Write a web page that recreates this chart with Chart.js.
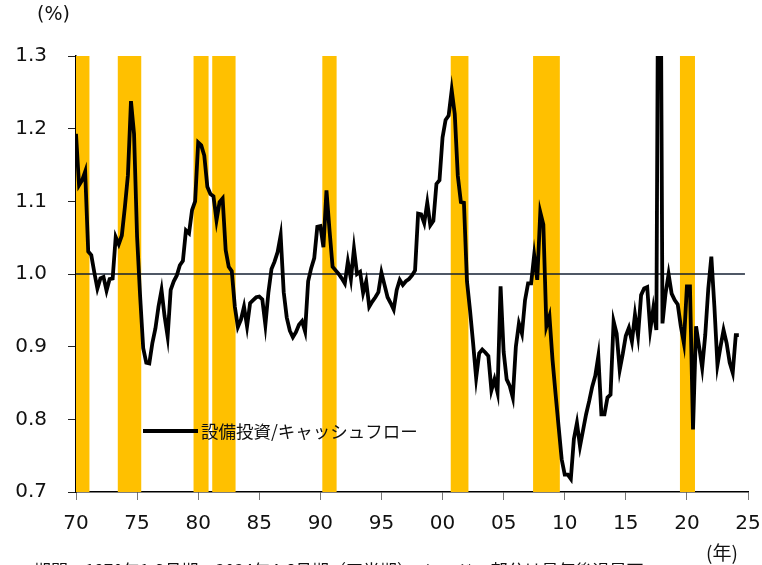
<!DOCTYPE html>
<html lang="ja">
<head>
<meta charset="utf-8">
<title>設備投資/キャッシュフロー</title>
<script src="https://cdn.jsdelivr.net/npm/chart.js@4.4.0/dist/chart.umd.min.js"></script>
<style>
  html, body { margin: 0; padding: 0; background: #fff; }
  #wrap { position: relative; width: 762px; height: 565px; overflow: hidden; }
  #chart { position: absolute; left: 0; top: 0; }
  .note { position: absolute; font-family: "DejaVu Sans", "Noto Sans CJK JP", sans-serif; color: #111; white-space: nowrap; }
  #unit { left: 37px; top: 2px; font-size: 19px; }
  #yearUnit { left: 706px; top: 538px; font-size: 19px; font-family: "Noto Sans CJK JP", sans-serif; }
  #source { left: 34px; top: 557px; font-size: 17px; font-family: "Noto Sans CJK JP", sans-serif; }
  #legend { position: absolute; left: 143px; top: 418px; display: flex; align-items: center; }
  #legend .swatch { width: 55px; height: 0; border-top: 4px solid #000; margin-right: 3px; }
  #legend .label { font-family: "Noto Sans CJK JP", sans-serif; font-size: 17.5px; color: #111; }
</style>
</head>
<body>
<div id="wrap">
  <canvas id="chart" width="762" height="565"></canvas>
  <div class="note" id="unit">(%)</div>
  <div class="note" id="yearUnit">(年)</div>
  <div class="note" id="source">期間：1970年1-3月期～2024年4-6月期（四半期）、シャドー部分は景気後退局面</div>
  <div id="legend"><span class="swatch"></span><span class="label">設備投資/キャッシュフロー</span></div>
</div>
<script>
// quarterly series, 1970Q1 - 2024Q2
const startYear = 1970;
const ratio = [
  1.193, 1.122, 1.129, 1.141, 1.031, 1.026, 1.002, 0.980, 0.994, 0.996,
  0.977, 0.993, 0.994, 1.051, 1.041, 1.053, 1.092, 1.136, 1.238, 1.193,
  1.051, 0.969, 0.898, 0.878, 0.877, 0.905, 0.925, 0.955, 0.978, 0.942,
  0.914, 0.978, 0.990, 0.998, 1.012, 1.018, 1.060, 1.056, 1.088, 1.100,
  1.181, 1.177, 1.163, 1.120, 1.110, 1.107, 1.074, 1.099, 1.104, 1.033,
  1.010, 1.004, 0.955, 0.927, 0.937, 0.955, 0.928, 0.960, 0.964, 0.968,
  0.969, 0.965, 0.930, 0.975, 1.007, 1.017, 1.030, 1.053, 0.975, 0.940,
  0.922, 0.913, 0.920, 0.930, 0.935, 0.921, 0.990, 1.008, 1.022, 1.065,
  1.066, 1.037, 1.115, 1.060, 1.010, 1.005, 1.000, 0.994, 0.987, 1.017,
  0.993, 1.035, 1.000, 1.003, 0.974, 0.990, 0.955, 0.962, 0.968, 0.975,
  1.002, 0.985, 0.968, 0.960, 0.951, 0.978, 0.992, 0.985, 0.990, 0.993,
  0.998, 1.005, 1.083, 1.082, 1.070, 1.098, 1.067, 1.073, 1.124, 1.129,
  1.188, 1.212, 1.218, 1.253, 1.220, 1.135, 1.099, 1.098, 0.990, 0.950,
  0.905, 0.857, 0.891, 0.896, 0.892, 0.887, 0.840, 0.855, 0.837, 0.983,
  0.893, 0.855, 0.846, 0.830, 0.900, 0.932, 0.918, 0.964, 0.987, 0.987,
  1.026, 0.992, 1.085, 1.068, 0.928, 0.942, 0.882, 0.835, 0.790, 0.745,
  0.724, 0.724, 0.718, 0.773, 0.795, 0.763, 0.785, 0.807, 0.825, 0.845,
  0.860, 0.887, 0.807, 0.807, 0.830, 0.834, 0.935, 0.918, 0.868, 0.890,
  0.915, 0.926, 0.907, 0.944, 0.915, 0.971, 0.980, 0.982, 0.923, 0.953,
  0.923, 1.800, 0.932, 0.973, 1.000, 0.973, 0.964, 0.958, 0.928, 0.905,
  0.983, 0.983, 0.786, 0.928, 0.900, 0.871, 0.916, 0.980, 1.024, 0.955,
  0.875, 0.900, 0.923, 0.905, 0.878, 0.864, 0.916, 0.916
];

// recession shading (decimal years)
const recessionStart = [1970.0, 1973.42, 1979.62, 1981.15, 1990.16, 2000.67, 2007.41, 2019.43];
const recessionEnd   = [1971.1, 1975.34, 1980.85, 1983.06, 1991.33, 2002.12, 2009.6, 2020.66];

// horizontal reference at 1.0
const refLineYears = [1970, 2024.75];
const refLevel = 1.0;

const xMin = 1970, xMax = 2025;
const yTicks = [0.7, 0.8, 0.9, 1.0, 1.1, 1.2, 1.3];

const points = ratio.map((v, i) => ({ x: startYear + i / 4, y: v }));

const recessionBands = {
  id: 'recessionBands',
  beforeDatasetsDraw(chart) {
    const { ctx, chartArea, scales } = chart;
    ctx.save();
    ctx.fillStyle = '#FFC000';
    recessionStart.forEach((s, i) => {
      const x0 = scales.x.getPixelForValue(s);
      const x1 = scales.x.getPixelForValue(recessionEnd[i]);
      ctx.fillRect(x0, chartArea.top, x1 - x0, chartArea.bottom - chartArea.top);
    });
    ctx.restore();
  }
};

const tickFont = { family: '"DejaVu Sans", sans-serif', size: 20 };

new Chart(document.getElementById('chart'), {
  type: 'line',
  data: {
    datasets: [
      {
        label: '設備投資/キャッシュフロー',
        data: points,
        borderColor: '#000',
        borderWidth: 3.8,
        pointRadius: 0,
        tension: 0,
        order: 1
      },
      {
        label: 'ref',
        data: refLineYears.map(x => ({ x: x, y: refLevel })),
        borderColor: '#142033',
        borderWidth: 1.3,
        pointRadius: 0,
        order: 2
      }
    ]
  },
  options: {
    responsive: false,
    animation: false,
    events: [],
    layout: { padding: { left: 0, right: 14, top: 56, bottom: 0 } },
    plugins: {
      legend: { display: false },
      tooltip: { enabled: false }
    },
    scales: {
      x: {
        type: 'linear',
        min: xMin,
        max: xMax,
        afterFit: s => { s.height = 73; s.paddingLeft = 0; s.paddingRight = 0; },
        border: { display: true, color: '#000', width: 1.5 },
        grid: { display: true, drawOnChartArea: false, drawTicks: true, tickLength: 8, color: '#777' },
        ticks: {
          stepSize: 5,
          padding: 12,
          color: '#111',
          font: tickFont,
          maxRotation: 0,
          callback: v => String(v % 100).padStart(2, '0')
        }
      },
      y: {
        min: 0.7,
        max: 1.3,
        afterFit: s => { s.width = 76; s.paddingTop = 0; s.paddingBottom = 0; },
        afterBuildTicks: s => { s.ticks = yTicks.map(v => ({ value: v })); },
        border: { display: true, color: '#000', width: 1.5 },
        grid: { display: true, drawOnChartArea: false, drawTicks: true, tickLength: 8, color: '#222' },
        ticks: {
          padding: 21,
          color: '#111',
          font: tickFont,
          callback: v => v.toFixed(1)
        }
      }
    }
  },
  plugins: [recessionBands]
});
</script>
</body>
</html>
